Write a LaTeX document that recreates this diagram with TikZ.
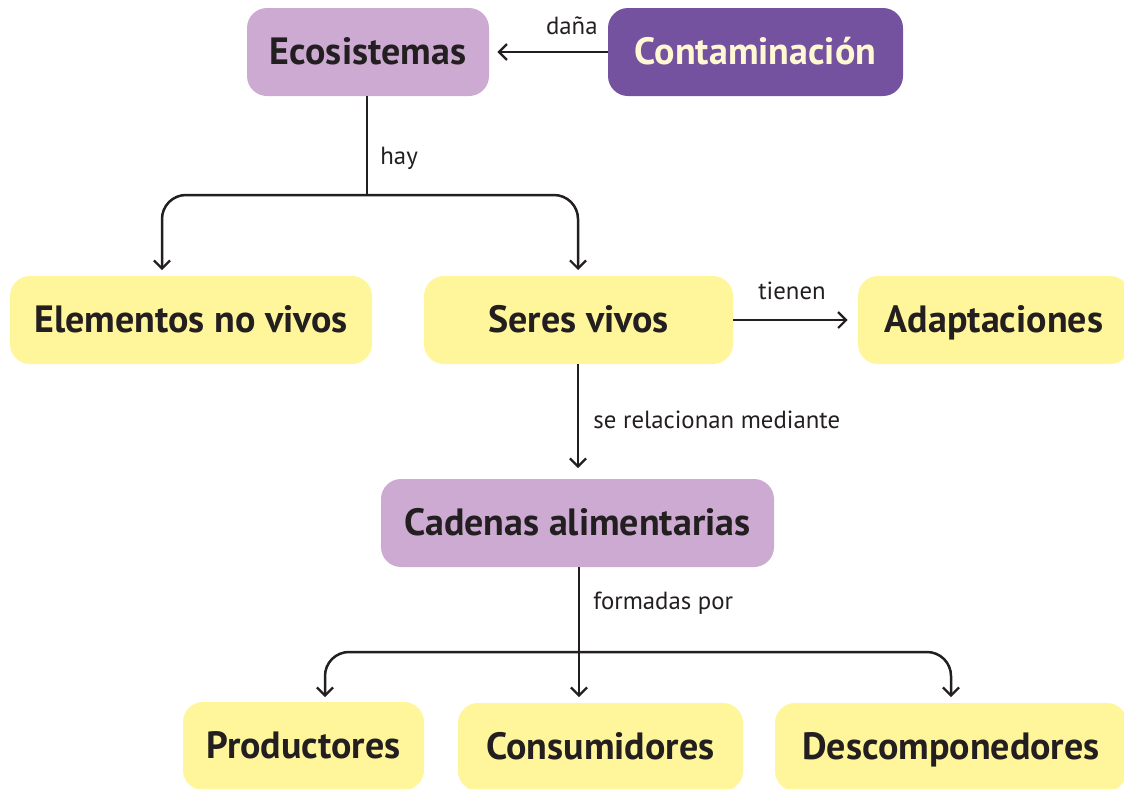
\documentclass[tikz,border=0pt]{standalone}
\usepackage{fontspec}
\setmainfont{PT Sans}
\usetikzlibrary{arrows.meta}
\definecolor{lilaclaro}{HTML}{CDAAD2}
\definecolor{morado}{HTML}{7452A0}
\definecolor{amarillo}{HTML}{FFF59B}
\definecolor{tinta}{HTML}{231F20}
\definecolor{crema}{HTML}{FFF8D2}
\tikzset{
  concepto/.style={rounded corners=10pt, minimum height=44pt, inner sep=0pt,
    text height=15pt, text depth=2.5pt,
    text=tinta, font=\bfseries\fontsize{19}{22}\selectfont},
  claro/.style={concepto, fill=lilaclaro},
  oscuro/.style={concepto, fill=morado, text=crema},
  hoja/.style={concepto, fill=amarillo},
  linea/.style={draw=tinta, line width=1.25pt},
  enlace/.style={linea, -{Straight Barb[length=4pt,width=8pt,line width=1.1pt]}},
  rotulo/.style={text=tinta, inner sep=0pt, font=\fontsize{12.4}{14}\selectfont}
}
\begin{document}
\begin{tikzpicture}[x=0.5pt,y=-0.5pt]
\useasboundingbox (0,0) rectangle (1124,788);
% conceptos
\node[claro, minimum width=121pt] (eco) at (368,52) {Ecosistemas};
\node[oscuro, minimum width=147.5pt] (cont) at (755.5,52) {Contaminación};
\node[hoja, minimum width=181pt] (elem) at (191,320) {Elementos no vivos};
\node[hoja, minimum width=154.5pt] (seres) at (578.5,320) {Seres vivos};
\node[hoja, minimum width=136pt] (adap) at (994,320) {Adaptaciones};
\node[claro, minimum width=196.5pt] (cad) at (577.5,523) {Cadenas alimentarias};
\node[hoja, minimum width=120.5pt] (prod) at (303.5,746) {Productores};
\node[hoja, minimum width=142.5pt] (cons) at (600.5,747) {Consumidores};
\node[hoja, minimum width=176pt] (desc) at (951,747) {Descomponedores};
% enlaces
\draw[enlace, shorten >=4pt] (cont.west) -- (eco.east);
\node[rotulo, anchor=east] (dana) at (598,26) {daña};
\coordinate (bif1) at (367,195);
\coordinate (f1) at (162,270);
\coordinate (f2) at (578,270);
\draw[linea] (eco.south -| bif1) -- (bif1);
\draw[enlace, rounded corners=12pt] (bif1) -| (f1);
\draw[enlace, rounded corners=12pt] (bif1) -| (f2);
\node[rotulo, anchor=west] (hay) at (380,158) {hay};
\draw[enlace, shorten >=5pt] (seres.east) -- (adap.west);
\node[rotulo] (tienen) at (792,291) {tienen};
\coordinate (f3) at (578,468);
\draw[enlace] (seres.south -| f3) -- (f3);
\node[rotulo, anchor=west] (rel) at (593,420) {se relacionan mediante};
\coordinate (bif2) at (579,652);
\coordinate (f4) at (325,697);
\coordinate (f5) at (579,697);
\coordinate (f6) at (951,697);
\draw[enlace] (cad.south -| f5) -- (f5);
\draw[enlace, rounded corners=12pt] (bif2) -| (f4);
\draw[enlace, rounded corners=12pt] (bif2) -| (f6);
\node[rotulo, anchor=west] (form) at (593,603) {formadas por};
\end{tikzpicture}
\end{document}
